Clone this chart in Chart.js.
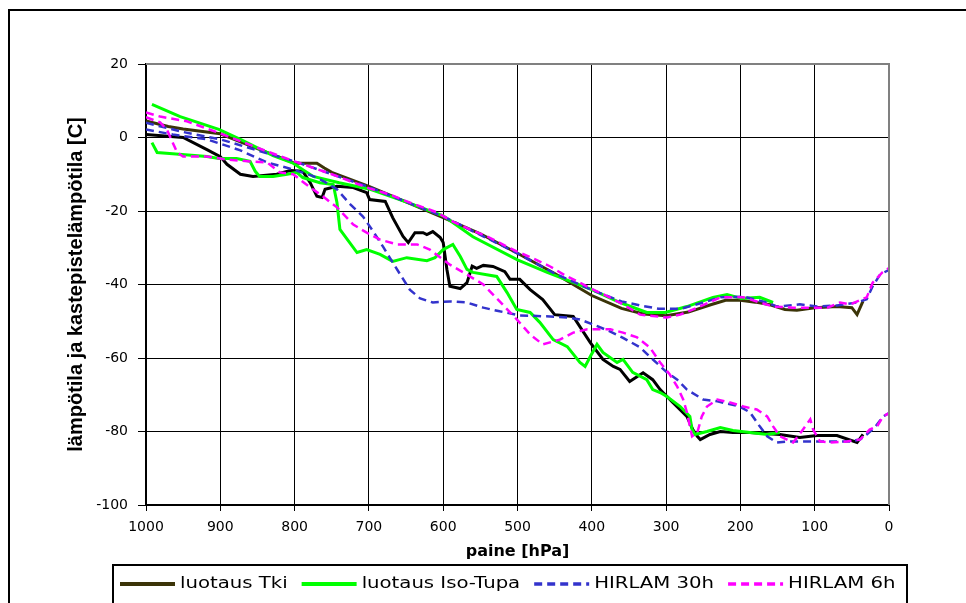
<!DOCTYPE html>
<html lang="fi">
<head>
<meta charset="UTF-8">
<title>Luotaus ja HIRLAM</title>
<script src="https://cdn.jsdelivr.net/npm/chart.js"></script>
<style>
  html, body { margin: 0; padding: 0; background: #fff; }
  #wrap { width: 966px; height: 603px; }
</style>
</head>
<body>
<div id="wrap"><canvas id="soundingChart" width="966" height="603"></canvas></div>
<script>
// [paine hPa, lämpötila C]
const tkiTemp = [
  [1000, 4.5], [970, 3], [950, 2.3], [900, 1], [850, -3], [800, -7], [770, -7], [760, -8.3],
  [750, -9.5], [700, -13.3], [650, -17.5], [600, -21.8], [550, -26.2], [500, -31.5], [450, -37],
  [400, -43], [360, -46.5], [330, -48], [300, -48.5], [270, -47.5], [240, -45.5], [220, -44.3],
  [200, -44.3], [180, -44.8], [160, -45.5], [140, -46.8], [124, -47], [100, -46.3], [70, -46],
  [50, -46.3], [43, -48.2], [35, -44.5]
];
const tkiDew = [
  [1000, 0.8], [950, 0], [918, -3.3], [900, -5.2], [891, -7.3], [873, -10], [856, -10.6], [824, -10],
  [806, -9], [789, -9.2], [779, -12.3], [770, -16], [763, -16.3], [759, -14.1], [743, -13.3],
  [721, -13.6], [703, -15], [699, -16.9], [678, -17.4], [668, -21.8], [654, -26.9], [647, -28.6],
  [638, -25.9], [627, -25.9], [622, -26.4], [614, -25.6], [604, -27.2], [600, -28.6], [595, -35.9],
  [591, -40.5], [577, -41.1], [568, -39.5], [561, -35], [555, -35.6], [546, -34.8], [533, -35.1],
  [517, -36.5], [510, -38.6], [497, -38.6], [483, -41.4], [466, -44.1], [450, -48.2], [425, -48.7],
  [402, -55.8], [385, -60.4], [371, -62.3], [362, -63.1], [349, -66.4], [331, -64], [318, -65.9],
  [308, -68.6], [291, -72.1], [272, -75.9], [264, -79.5], [258, -81.3], [254, -82.2], [241, -80.8],
  [227, -80], [210, -80.3], [187, -80.3], [147, -80.8], [120, -81.6], [97, -81.1], [70, -81.1],
  [43, -83], [35, -80.8]
];
const isoTemp = [
  [992, 9], [954, 5.7], [902, 2.2], [873, -0.5], [829, -4.9], [802, -7], [775, -10.6], [740, -12.3],
  [700, -14], [650, -17.5], [600, -21.3], [560, -27], [500, -33.3], [460, -36.7], [400, -41.4],
  [362, -44.9], [326, -47.6], [301, -47.6], [272, -46], [237, -43.5], [218, -42.7], [199, -43.8],
  [174, -43.5], [156, -44.9]
];
const isoDew = [
  [992, -1.4], [985, -4.1], [964, -4.4], [918, -5.2], [902, -5.7], [878, -5.7], [860, -6.5],
  [853, -9.2], [847, -10.6], [829, -10.6], [810, -10], [797, -9.5], [789, -10.9], [766, -12.3],
  [748, -12.8], [743, -17.7], [739, -25], [716, -31.3], [703, -30.5], [685, -31.8], [668, -33.7],
  [649, -32.7], [622, -33.5], [611, -32.7], [600, -30.5], [587, -29.1], [577, -32.4], [568, -35.9],
  [560, -36.7], [528, -37.8], [514, -42.2], [501, -46.8], [483, -47.6], [470, -50.3], [452, -55],
  [433, -56.9], [416, -61.2], [409, -62.3], [402, -59.6], [393, -56.3], [385, -58.5], [366, -61.2],
  [358, -60.4], [345, -63.9], [326, -65.9], [318, -68.6], [308, -69.4], [299, -70.5], [281, -73.2],
  [268, -75.9], [265, -79.5], [261, -80.8], [245, -80], [227, -78.9], [210, -79.7], [187, -80.3],
  [164, -80.8], [147, -80.3]
];
const h30Temp = [
  [1000, 4], [950, 1.5], [900, -0.5], [850, -3.5], [800, -6.5], [750, -10], [700, -13.5],
  [650, -17.5], [600, -21.5], [550, -26.5], [500, -31.5], [450, -37], [400, -41.5], [360, -44.6],
  [335, -45.7], [310, -46.6], [280, -46.6], [245, -44.6], [227, -43.5], [196, -43.3], [164, -44.9],
  [151, -46], [120, -45.4], [97, -46], [70, -45.7], [43, -44.9], [30, -44], [22, -40.5], [12, -37.3],
  [0, -36]
];
const h30Dew = [
  [1000, 2.2], [964, 0.8], [918, -0.5], [873, -3.5], [837, -6.8], [802, -8.7], [775, -10.5],
  [760, -12], [743, -14.1], [725, -18.2], [708, -21.5], [694, -25.6], [681, -29.7], [668, -34],
  [645, -41.4], [631, -43.8], [614, -44.9], [591, -44.6], [568, -44.9], [546, -46.3], [524, -47.3],
  [497, -48.4], [456, -48.7], [433, -49], [416, -49.5], [398, -50.9], [375, -52.8], [358, -54.5],
  [335, -57.1], [322, -59.6], [299, -63.9], [285, -65.9], [272, -68.6], [250, -71.3], [231, -71.8],
  [201, -73.2], [187, -74.8], [174, -78.6], [164, -81.3], [151, -83], [133, -82.7], [52, -82.7],
  [39, -82.2], [30, -80.8], [19, -78.9], [8, -75.9], [0, -75]
];
const h6Temp = [
  [1000, 6.8], [981, 5.7], [945, 4.4], [904, 1.4], [873, -1], [837, -3.8], [800, -6.5], [750, -10],
  [700, -13.8], [672, -15.5], [649, -17.4], [627, -19], [608, -20.4], [587, -22.9], [564, -25],
  [541, -26.9], [520, -29.1], [501, -31], [479, -32.9], [456, -35.1], [436, -37.5], [416, -39.5],
  [396, -41.6], [378, -43.3], [358, -45.4], [335, -48.2], [299, -49], [281, -48.2], [258, -46.3],
  [227, -43.5], [196, -43.5], [156, -46], [129, -46.3], [83, -46.3], [66, -44.9], [52, -45.4],
  [30, -43.5], [22, -39.5], [9, -36.7], [0, -35.5]
];
const h6Dew = [
  [1000, 5.5], [981, 4.1], [972, 2.2], [964, -1.4], [958, -4.1], [950, -5.2], [918, -5.2],
  [891, -6], [860, -6.5], [837, -6.8], [820, -9.5], [802, -10], [779, -13.6], [762, -16],
  [743, -19], [721, -23.7], [703, -25.9], [685, -27.8], [662, -29.1], [635, -29.1], [618, -30.5],
  [591, -34.6], [568, -37.3], [546, -40], [524, -44.6], [501, -49.5], [483, -53.6], [466, -56.3],
  [443, -55], [425, -53.1], [406, -52.2], [375, -52.2], [358, -53.1], [339, -54.4], [322, -57.1],
  [308, -61.2], [295, -64.5], [285, -67.8], [277, -71.3], [272, -74.8], [268, -78.6], [265, -81.3],
  [258, -80.3], [252, -75.9], [245, -73.2], [231, -71.3], [214, -72.1], [196, -73.2], [178, -74],
  [164, -75.9], [156, -78.6], [147, -81.3], [129, -83], [116, -79.5], [106, -76.7], [102, -79.5],
  [93, -82.7], [79, -83], [57, -82.7], [39, -82.2], [26, -79.5], [16, -78.6], [8, -75.9], [0, -75]
];

const seriesNames = ['luotaus Tki', 'luotaus Iso-Tupa', 'HIRLAM 30h', 'HIRLAM 6h'];

const TICK_FONT = { family: 'DejaVu Sans', size: 14 };

function pts(rows) {
  return rows.map(r => ({ x: r[0], y: r[1] }));
}

function solid(label, rows, color, legend) {
  return { label, data: pts(rows), borderColor: color, borderWidth: 3, legend };
}

function dashed(label, rows, color, legend) {
  return { label, data: pts(rows), borderColor: color, borderWidth: 2.5, borderDash: [8, 5], legend };
}

const datasets = [
  solid(seriesNames[0], tkiTemp, '#3b3408', true),
  solid(seriesNames[0] + ' kastepiste', tkiDew, '#000000', false),
  solid(seriesNames[1], isoTemp, '#00ff00', true),
  solid(seriesNames[1] + ' kastepiste', isoDew, '#00ff00', false),
  dashed(seriesNames[2], h30Temp, '#3333cc', true),
  dashed(seriesNames[2] + ' kastepiste', h30Dew, '#3333cc', false),
  dashed(seriesNames[3], h6Temp, '#ff00ff', true),
  dashed(seriesNames[3] + ' kastepiste', h6Dew, '#ff00ff', false)
];
// later series on top
datasets.forEach((d, i) => { d.order = datasets.length - i; });

// white background, grey plot frame, outer border and the boxed legend
const frame = {
  id: 'frame',
  beforeDraw(chart) {
    const ctx = chart.ctx;
    ctx.save();
    ctx.fillStyle = '#fff';
    ctx.fillRect(0, 0, chart.width, chart.height);
    ctx.restore();
  },
  afterDraw(chart) {
    const { ctx, chartArea: a } = chart;
    ctx.save();
    ctx.strokeStyle = '#808080';
    ctx.lineWidth = 2;
    ctx.beginPath();
    ctx.moveTo(a.left, a.top);
    ctx.lineTo(a.right, a.top);
    ctx.lineTo(a.right, a.bottom);
    ctx.stroke();

    ctx.strokeStyle = '#000';
    ctx.lineWidth = 2;
    ctx.strokeRect(9, 10, 1000, 700);

    // legend, text drawn a bit wide like the axis labels
    const box = { left: 113, top: 565, right: 907 };
    ctx.strokeRect(box.left, box.top, box.right - box.left, 60);
    ctx.font = '16px "DejaVu Sans"';
    ctx.textBaseline = 'middle';
    ctx.fillStyle = '#000';
    const stretch = 1.23;
    const y = 584;
    let x = 120;
    chart.data.datasets.filter(d => d.legend).forEach(d => {
      ctx.save();
      ctx.strokeStyle = d.borderColor;
      ctx.lineWidth = d.borderWidth + 1;
      ctx.setLineDash(d.borderDash || []);
      ctx.beginPath();
      ctx.moveTo(x, y);
      ctx.lineTo(x + 55, y);
      ctx.stroke();
      ctx.restore();
      ctx.save();
      ctx.translate(x + 60, y);
      ctx.scale(stretch, 1);
      ctx.fillText(d.label, 0, 0);
      ctx.restore();
      x += 60 + ctx.measureText(d.label).width * stretch + 14;
    });
    ctx.restore();
  }
};

const ctx = document.getElementById('soundingChart').getContext('2d');
new Chart(ctx, {
  type: 'line',
  data: { datasets },
  options: {
    responsive: false,
    devicePixelRatio: 1,
    animation: false,
    layout: { padding: { top: 64, right: 77, left: 0, bottom: 29 } },
    elements: { point: { radius: 0 }, line: { tension: 0 } },
    plugins: { legend: { display: false }, tooltip: { enabled: false } },
    scales: {
      x: {
        type: 'linear',
        reverse: true,
        min: 0,
        max: 1000,
        ticks: {
          stepSize: 100, color: '#000', font: TICK_FONT, padding: 8, maxRotation: 0,
          callback: v => String(v)
        },
        grid: { color: '#000', lineWidth: 1, tickLength: 6, tickColor: '#000' },
        border: { color: '#000', width: 2 },
        title: {
          display: true, text: 'paine [hPa]', color: '#000',
          font: { family: 'DejaVu Sans', size: 16, weight: 'bold' },
          padding: { top: 0, bottom: 13 }
        },
        afterFit(scale) { scale.height = 69; }
      },
      y: {
        min: -100,
        max: 20,
        ticks: { stepSize: 20, color: '#000', font: TICK_FONT, padding: 10 },
        grid: { color: '#000', lineWidth: 1, tickLength: 8, tickColor: '#000' },
        border: { color: '#000', width: 2 },
        title: {
          display: true, text: 'lämpötila ja kastepistelämpötila [C]', color: '#000',
          font: { family: 'Liberation Sans', size: 20, weight: 'bold' },
          padding: { top: 64, bottom: 0 }
        },
        afterFit(scale) { scale.width = 146; }
      }
    }
  },
  plugins: [frame]
});
</script>
</body>
</html>
